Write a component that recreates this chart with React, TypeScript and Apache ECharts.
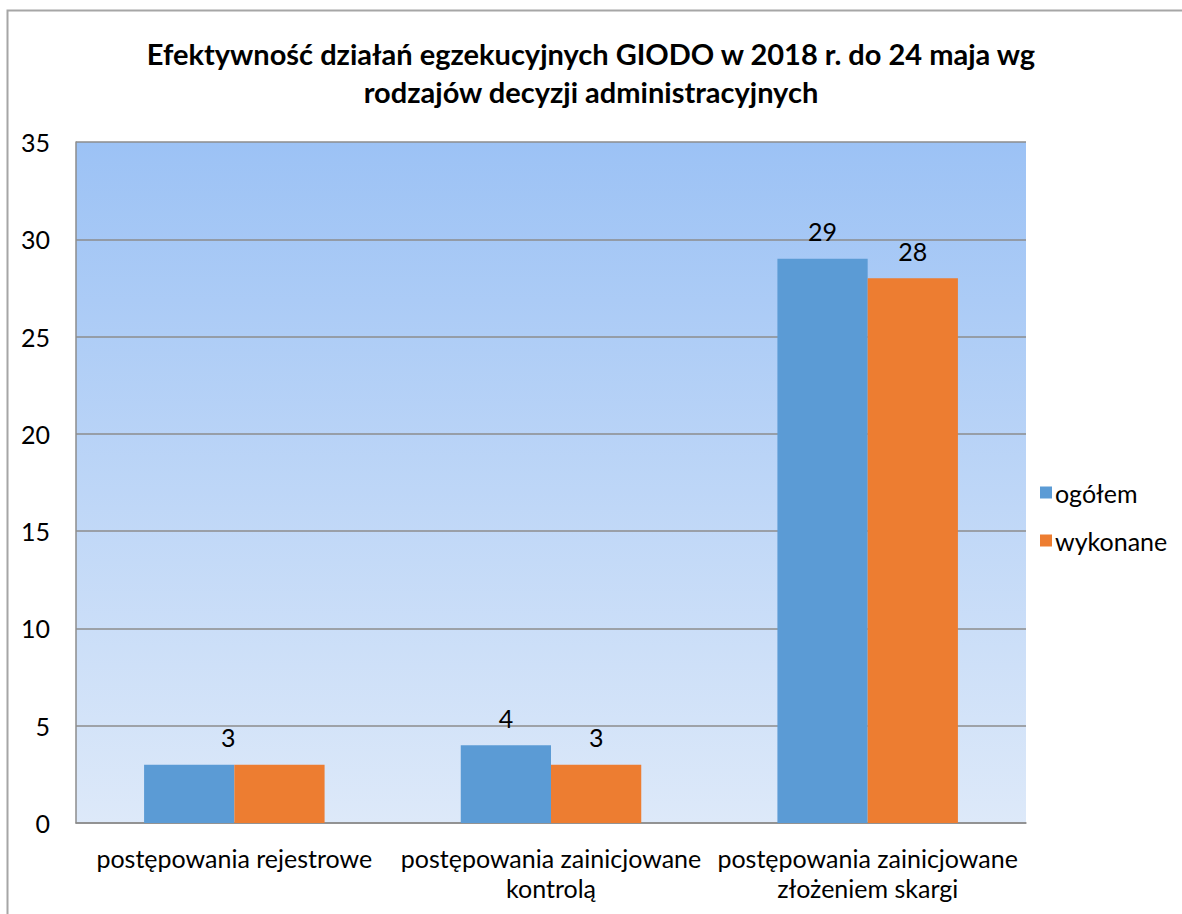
import React, { useEffect, useRef } from "react";
import * as echarts from "echarts";

const categories = [
  "postępowania rejestrowe",
  "postępowania zainicjowane\nkontrolą",
  "postępowania zainicjowane\nzłożeniem skargi",
];
const ogolem = [3, 4, 29];
const wykonane = [3, 3, 28];
const seriesNames = ["ogółem", "wykonane"];
const titleText =
  "Efektywność działań egzekucyjnych GIODO w 2018 r. do 24 maja wg\nrodzajów decyzji administracyjnych";

const FONT = "Lato";
const FS = 25;

export default function App() {
  const ref = useRef<HTMLDivElement>(null);
  useEffect(() => {
    if (!ref.current) return;
    const chart = echarts.init(ref.current, undefined, { renderer: "svg" });
    const labelBase = {
      show: true,
      position: "top",
      distance: 15,
      fontSize: FS,
      color: "#000",
      fontFamily: FONT,
    };
    chart.setOption({
      animation: false,
      backgroundColor: "#fff",
      textStyle: { fontFamily: FONT },
      title: {
        text: titleText,
        left: "center",
        top: 29,
        textStyle: {
          fontSize: 29,
          fontWeight: "bold",
          color: "#000",
          fontFamily: FONT,
          lineHeight: 38,
        },
      },
      graphic: [
        {
          type: "rect",
          shape: { x: 7.5, y: 10.5, width: 1300, height: 1000 },
          style: { fill: "none", stroke: "#a6a6a6", lineWidth: 2 },
          silent: true,
          z: 100,
        },
      ],
      legend: {
        orient: "vertical",
        left: 1035,
        top: 475,
        itemWidth: 12,
        itemHeight: 12,
        itemGap: 23,
        icon: "rect",
        textStyle: { fontSize: FS, color: "#000", fontFamily: FONT, padding: [0, 0, 0, -2] },
        data: seriesNames,
      },
      grid: {
        left: 76,
        right: 156,
        top: 142,
        bottom: 91,
        show: true,
        borderWidth: 0,
        backgroundColor: new echarts.graphic.LinearGradient(0, 0, 0, 1, [
          { offset: 0, color: "#9cc2f5" },
          { offset: 1, color: "#dde9f9" },
        ]),
      },
      xAxis: {
        type: "category",
        data: categories,
        axisTick: { show: false },
        axisLine: { lineStyle: { color: "#8c8c8c", width: 1.5 } },
        axisLabel: {
          fontSize: FS,
          color: "#000",
          fontFamily: FONT,
          lineHeight: 30,
          margin: 20,
          interval: 0,
        },
      },
      yAxis: {
        type: "value",
        min: 0,
        max: 35,
        interval: 5,
        axisLine: { show: true, lineStyle: { color: "#8c8c8c", width: 1.5 } },
        axisTick: { show: false },
        splitLine: { lineStyle: { color: "#8c8c8c", width: 1.5 } },
        axisLabel: { fontSize: FS, color: "#000", fontFamily: FONT, margin: 26 },
      },
      series: [
        {
          name: seriesNames[0],
          type: "bar",
          barGap: "0%",
          barCategoryGap: "43%",
          itemStyle: { color: "#5b9bd5" },
          label: labelBase,
          data: ogolem.map((v, i) =>
            i === 0 ? { value: v, label: { offset: [39, 0] } } : v
          ),
        },
        {
          name: seriesNames[1],
          type: "bar",
          itemStyle: { color: "#ed7d31" },
          label: labelBase,
          data: wykonane.map((v, i) =>
            i === 0 ? { value: v, label: { show: false } } : v
          ),
        },
      ],
    });
    return () => chart.dispose();
  }, []);
  return (
    <div
      ref={ref}
      style={{ position: "fixed", left: 0, top: 0, width: 1182, height: 914 }}
    />
  );
}
